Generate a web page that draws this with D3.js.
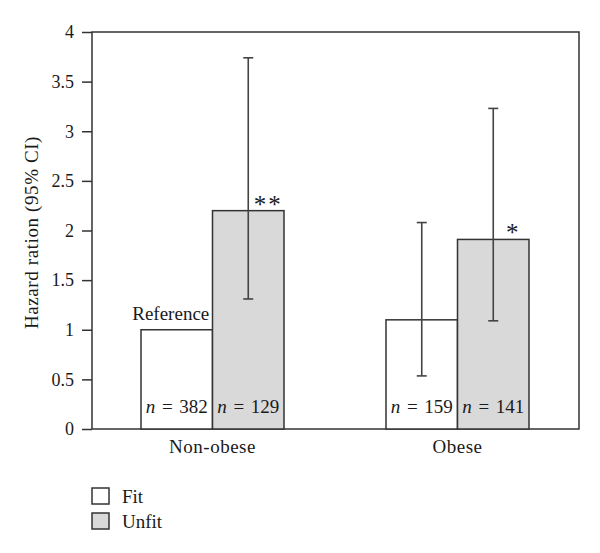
<!DOCTYPE html>
<html>
<head>
<meta charset="utf-8">
<script src="https://cdn.jsdelivr.net/npm/d3@7"></script>
<style>
body { margin: 0; background: #fff; }
text { font-family: "Liberation Serif", "DejaVu Serif", serif; fill: #1a1a1a; }
</style>
</head>
<body>
<svg id="chart"></svg>
<script>
var groups = ["Non-obese", "Obese"];
var series = ["Fit", "Unfit"];
var hazard = [[1.0, 2.2], [1.1, 1.91]];
var ciLow = [[null, 1.31], [0.535, 1.09]];
var ciHigh = [[null, 3.74], [2.08, 3.23]];
var counts = [["382", "129"], ["159", "141"]];
var stars = [["", "**"], ["", "*"]];
var yTicks = [0, 0.5, 1, 1.5, 2, 2.5, 3, 3.5, 4];

var w = 600;
var h = 553;
var margin = {
	left: 92,
	right: 21,
	top: 32,
	bottom: 124
}
var svg = d3.select("#chart")
	.attr("width", w)
	.attr("height", h);

var yScale = d3.scaleLinear()
	.domain([0, 4])
	.range([h - margin.bottom, margin.top]);
var x0 = d3.scaleBand()
	.domain(groups)
	.range([margin.left - 2, w - margin.right + 1]);
var x1 = d3.scaleBand()
	.domain(series)
	.range([0, 143]);
var fills = { "Fit": "#ffffff", "Unfit": "#d9d9d9" };

// frame
svg.append("rect")
	.attr("x", margin.left)
	.attr("y", margin.top)
	.attr("width", w - margin.left - margin.right)
	.attr("height", h - margin.top - margin.bottom)
	.attr("fill", "none")
	.attr("stroke", "#333")
	.attr("stroke-width", 1.5);

var yAxis = d3.axisLeft(yScale)
	.tickValues(yTicks)
	.tickSize(10)
	.tickPadding(8)
	.tickFormat(function (d) { return d; });
var ya = svg.append("g")
	.classed("yAxis", true)
	.attr("transform", "translate(" + margin.left + ",0)")
	.call(yAxis);
ya.select(".domain").remove();
ya.selectAll("line").attr("stroke", "#333").attr("stroke-width", 1.5);
ya.selectAll("text").style("font-size", "18px").attr("fill", "#1a1a1a");

svg.append("text")
	.attr("transform", "translate(38," + ((margin.top + h - margin.bottom) / 2 + 2) + ") rotate(-90)")
	.attr("text-anchor", "middle")
	.style("font-size", "19px")
	.style("letter-spacing", "0.6px")
	.text("Hazard ration (95% CI)");

var rows = [];
groups.forEach(function (g, i) {
	series.forEach(function (s, j) {
		rows.push({ g: g, s: s, v: hazard[i][j], lo: ciLow[i][j], hi: ciHigh[i][j], n: counts[i][j], star: stars[i][j] });
	});
});
function barX(d) {
	return x0(d.g) + (x0.bandwidth() - 143) / 2 + x1(d.s);
}

svg.selectAll("rect.bar")
	.data(rows)
	.enter()
	.append("rect")
	.classed("bar", true)
	.attr("x", barX)
	.attr("y", function (d) { return yScale(d.v); })
	.attr("width", x1.bandwidth())
	.attr("height", function (d) { return yScale(0) - yScale(d.v); })
	.attr("fill", function (d) { return fills[d.s]; })
	.attr("stroke", "#333")
	.attr("stroke-width", 1.5);

var withCi = rows.filter(function (d) { return d.lo !== null; });
var eb = svg.selectAll("g.err")
	.data(withCi)
	.enter()
	.append("g")
	.classed("err", true)
	.attr("stroke", "#444")
	.attr("stroke-width", 1.6);
eb.append("line")
	.attr("x1", function (d) { return barX(d) + x1.bandwidth() / 2; })
	.attr("x2", function (d) { return barX(d) + x1.bandwidth() / 2; })
	.attr("y1", function (d) { return yScale(d.lo); })
	.attr("y2", function (d) { return yScale(d.hi); });
["lo", "hi"].forEach(function (k) {
	eb.append("line")
		.attr("x1", function (d) { return barX(d) + x1.bandwidth() / 2 - 5; })
		.attr("x2", function (d) { return barX(d) + x1.bandwidth() / 2 + 5; })
		.attr("y1", function (d) { return yScale(d[k]); })
		.attr("y2", function (d) { return yScale(d[k]); });
});

var nt = svg.selectAll("text.n")
	.data(rows)
	.enter()
	.append("text")
	.classed("n", true)
	.attr("x", function (d) { return barX(d) + x1.bandwidth() / 2; })
	.attr("y", yScale(0) - 16)
	.attr("text-anchor", "middle")
	.style("font-size", "19px")
	.style("word-spacing", "2px");
nt.append("tspan").style("font-style", "italic").text("n");
nt.append("tspan").text(function (d) { return " = " + d.n; });

svg.selectAll("text.star")
	.data(rows.filter(function (d) { return d.star !== ""; }))
	.enter()
	.append("text")
	.classed("star", true)
	.attr("x", function (d) { return barX(d) + x1.bandwidth() * 0.78; })
	.attr("y", function (d) { return yScale(d.v) + 2; })
	.attr("text-anchor", "middle")
	.style("font-size", "25px")
	.style("letter-spacing", "2px")
	.text(function (d) { return d.star; });

svg.append("text")
	.attr("x", barX(rows[0]) + x1.bandwidth() / 2 - 6)
	.attr("y", yScale(rows[0].v) - 10)
	.attr("text-anchor", "middle")
	.style("font-size", "19px")
	.text("Reference");

svg.selectAll("text.cat")
	.data(groups)
	.enter()
	.append("text")
	.classed("cat", true)
	.attr("x", function (d) { return x0(d) + x0.bandwidth() / 2; })
	.attr("y", yScale(0) + 24)
	.attr("text-anchor", "middle")
	.style("font-size", "19px")
	.style("letter-spacing", "0.5px")
	.text(function (d) { return d; });

var lg = svg.selectAll("g.legend")
	.data(series)
	.enter()
	.append("g")
	.classed("legend", true)
	.attr("transform", function (d, i) { return "translate(92," + (488 + i * 25) + ")"; });
lg.append("rect")
	.attr("width", 17)
	.attr("height", 16)
	.attr("fill", function (d) { return fills[d]; })
	.attr("stroke", "#333")
	.attr("stroke-width", 1.5);
lg.append("text")
	.attr("x", 30)
	.attr("y", 15)
	.style("font-size", "19px")
	.text(function (d) { return d; });
</script>
</body>
</html>
